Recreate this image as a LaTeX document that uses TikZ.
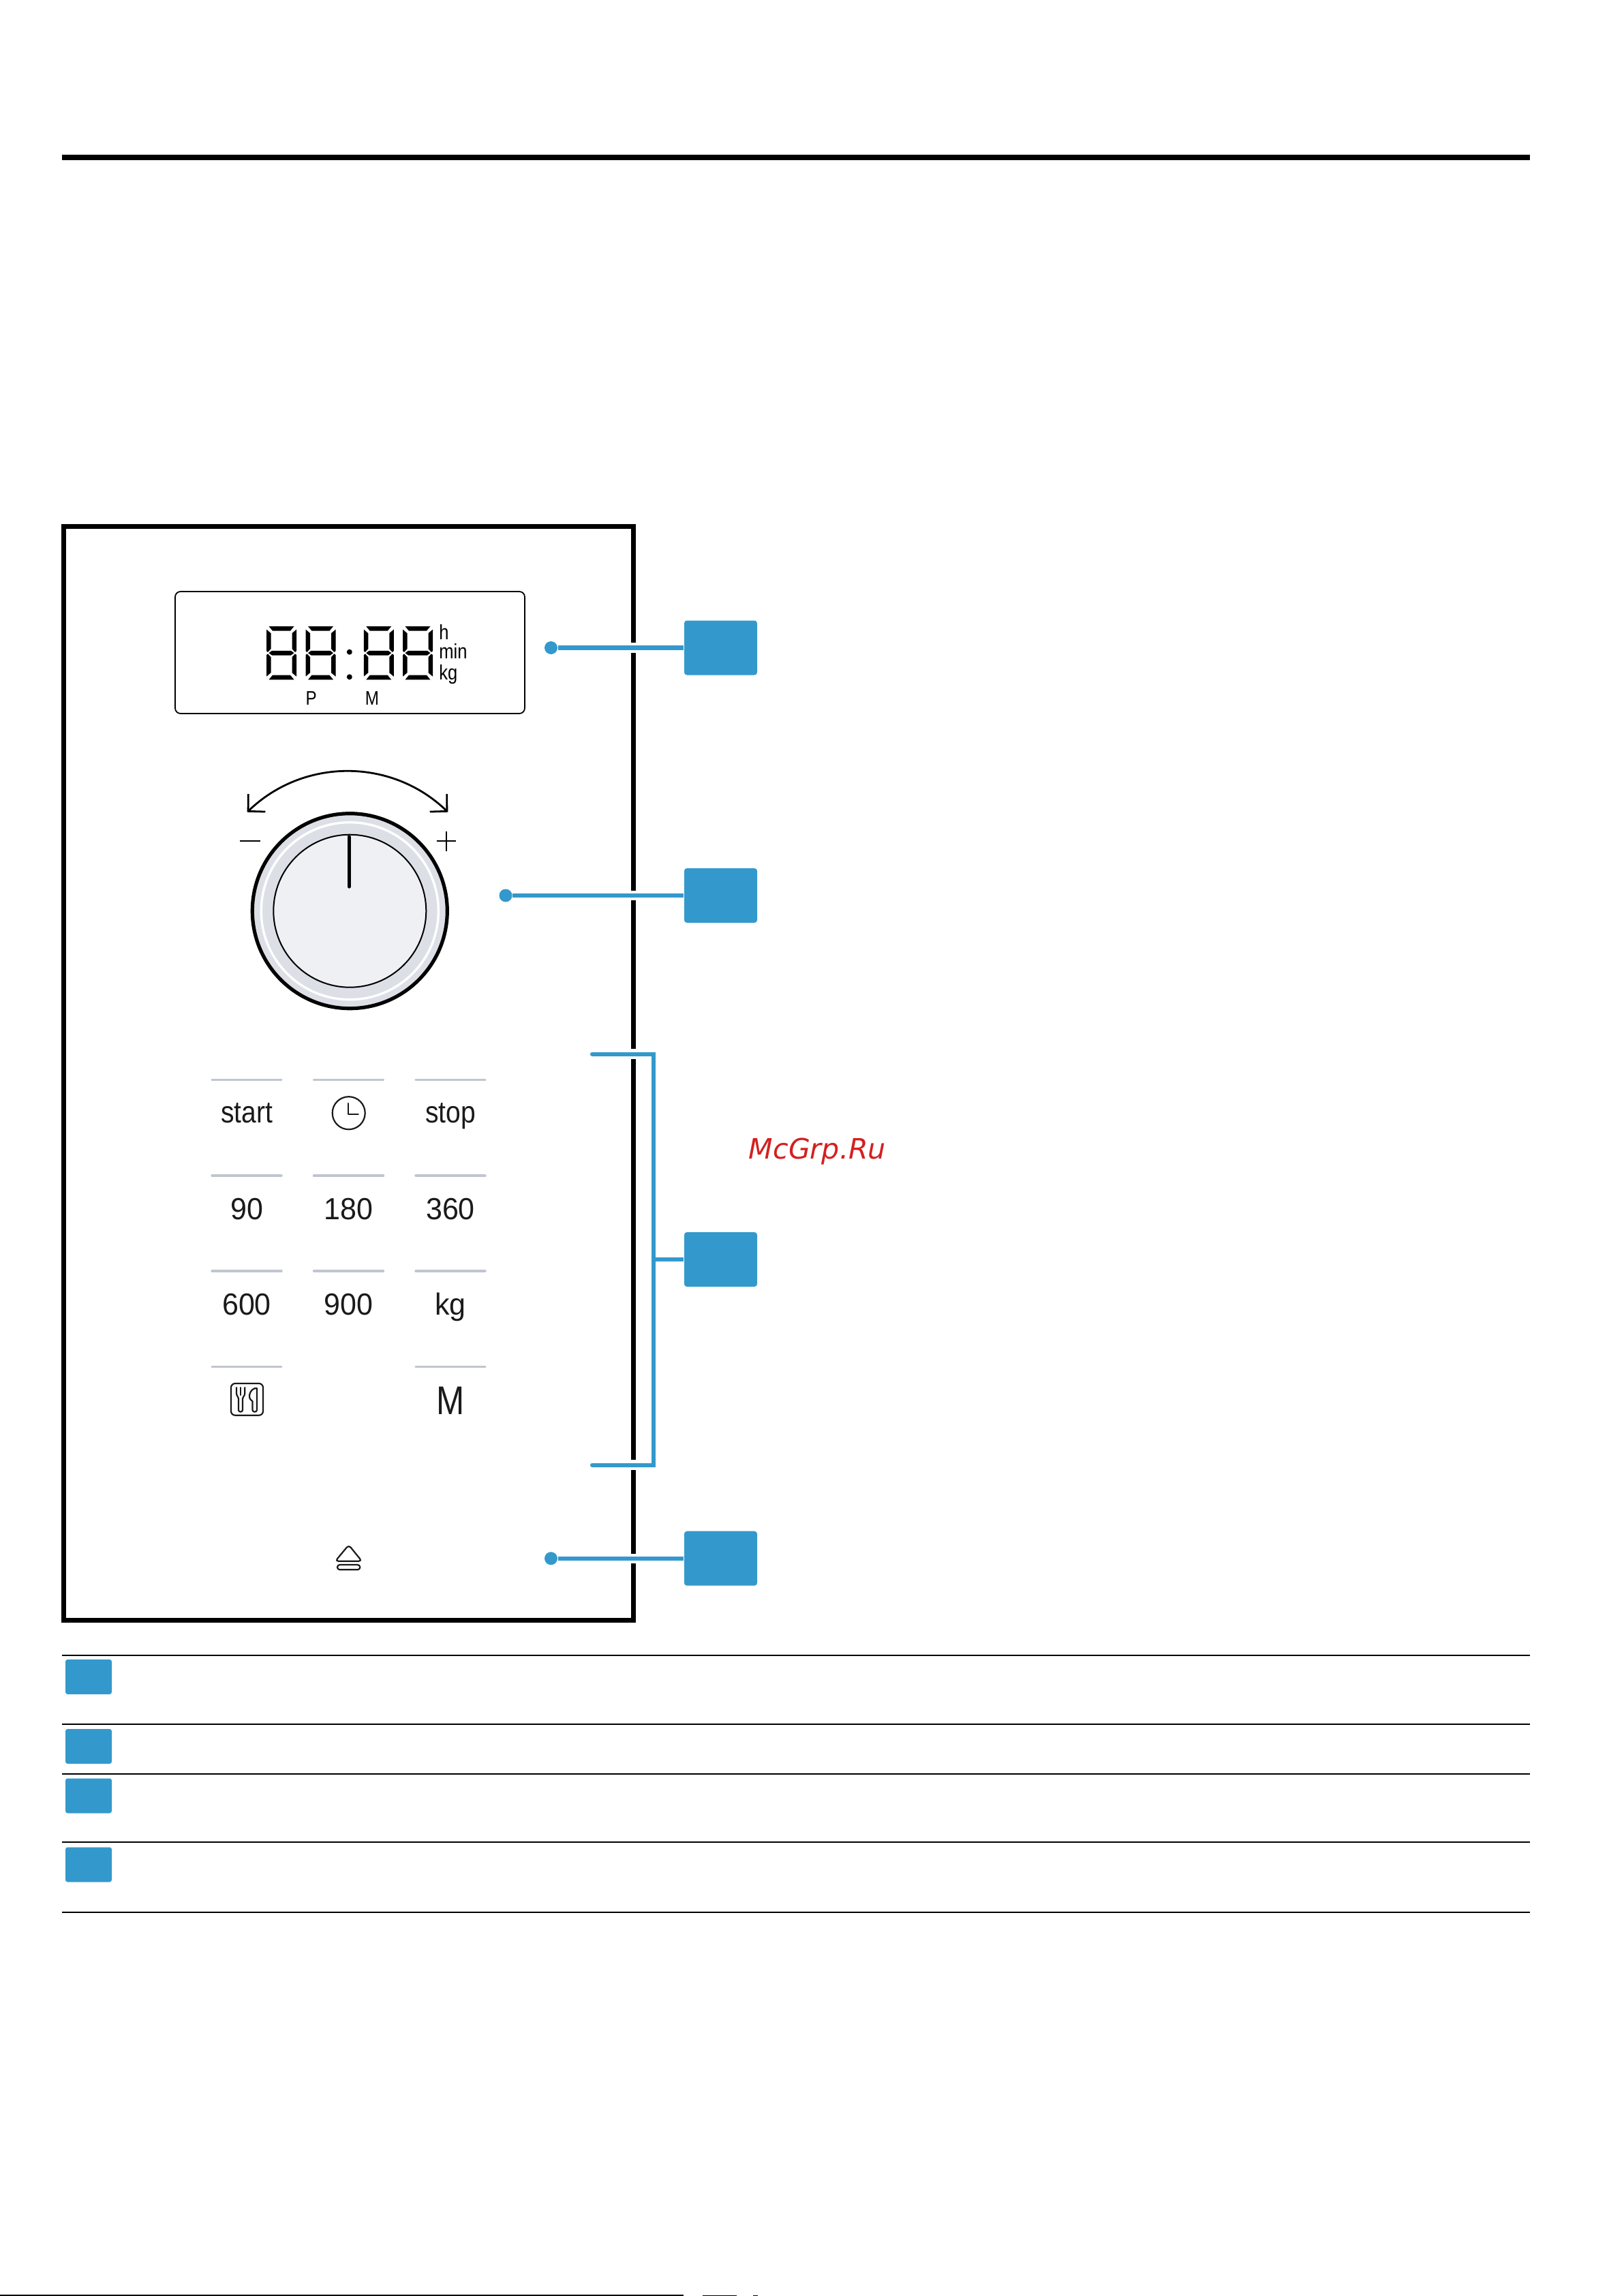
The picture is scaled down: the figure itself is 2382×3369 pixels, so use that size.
\documentclass[tikz,border=0pt]{standalone}
\usepackage{fontspec}
\usetikzlibrary{arrows.meta}
\newfontfamily\keyfont[FakeStretch=0.87]{Liberation Sans}
\newfontfamily\numfont[FakeStretch=0.96]{Liberation Sans}
\newfontfamily\lcdfont[FakeStretch=0.84]{Liberation Sans}
\newfontfamily\markfont{DejaVu Sans}
\definecolor{tagblue}{HTML}{3399CC}
\definecolor{knobgrey}{HTML}{DCDFE6}
\definecolor{knobface}{HTML}{EEF0F4}
\definecolor{keygrey}{HTML}{C0C5CE}
\definecolor{inkblack}{HTML}{1A1A1A}
\definecolor{markred}{HTML}{D42020}
\tikzset{
    tagbox/.style={fill=tagblue, minimum width=26.75pt, minimum height=20pt, inner sep=0pt, rounded corners=1pt},
    rowbox/.style={fill=tagblue, minimum width=17pt, minimum height=12.75pt, inner sep=0pt, rounded corners=.8pt},
    tagdot/.style={circle, fill=tagblue, minimum size=4.75pt, inner sep=0pt},
    tagline/.style={draw=tagblue, line width=1.55pt, preaction={draw=white, line width=3.6pt}},
    tablerule/.style={line width=.5pt},
    keyline/.style={draw=keygrey, line width=.85pt, line cap=round},
    keylabel/.style={anchor=base, inner sep=0pt, text=inkblack, font=\keyfont\fontsize{11.2pt}{13pt}\selectfont},
    numlabel/.style={keylabel, font=\numfont\fontsize{11.2pt}{13pt}\selectfont},
    lcdlabel/.style={anchor=base west, inner sep=0pt, font=\lcdfont\fontsize{7.6pt}{9pt}\selectfont},
    iconline/.style={draw=inkblack, line width=.55pt, line cap=round, line join=round}
}
\begin{document}
\begin{tikzpicture}[x=0.25pt, y=-0.25pt]

    \useasboundingbox (0, 0) rectangle (2382, 3369);

    % Heading rule and the frame of the panel
    \draw[line width=2pt] (91, 231) -- (2245, 231);
    \draw[line width=1.75pt] (93.5, 772.5) rectangle (929, 2377.5);

    % Display window
    \draw[line width=.45pt, rounded corners=2pt] (257, 868) rectangle (770, 1047);

    % Segments of the four digits, one quarter mirrored at a time
    \foreach \dx in {413, 470.5, 555.75, 613} {
        \foreach \flip in {1, -1} {
            \begin{scope}[shift={(\dx, 958.15)}, yscale=\flip]
                \fill (-18.5, -39.15) -- (18.5, -39.15) -- (13, -32.5) -- (-13, -32.5) -- cycle;
                \foreach \side in {1, -1} {
                    \fill[xscale=\side] (-22, -34.5) -- (-15.5, -29) -- (-15.5, -6) -- (-20, -1.2) -- (-22, -3) -- cycle;
                }
            \end{scope}
        }
        \fill (\dx-18.5, 958.15) -- (\dx-14, 954.8) -- (\dx+14, 954.8) -- (\dx+18.5, 958.15) -- (\dx+14, 961.5) -- (\dx-14, 961.5) -- cycle;
    }

    % Colon between the digits
    \fill (512.8, 956.7) circle[radius=4];
    \fill (512.8, 993.3) circle[radius=4];

    % Units and markers of the display
    \node[lcdlabel] (unith) at (643.5, 938) {h};
    \node[lcdlabel] (unitmin) at (643.5, 966.7) {min};
    \node[lcdlabel] (unitkg) at (643.5, 997) {kg};
    \node[lcdlabel, anchor=base, font=\lcdfont\fontsize{7.2pt}{9pt}\selectfont] (markp) at (456.7, 1034) {P};
    \node[lcdlabel, anchor=base, font=\lcdfont\fontsize{7.2pt}{9pt}\selectfont] (markm) at (546, 1034) {M};

    % Dial with its turning arrow
    \coordinate (knobcentre) at (513.3, 1336.7);
    \draw[line width=1.3pt, fill=knobgrey] (knobcentre) circle[radius=143];
    \draw[white, line width=.85pt] (knobcentre) circle[radius=130];
    \draw[line width=.5pt, fill=knobface] (knobcentre) circle[radius=112];
    \draw[line width=1.3pt, line cap=round] (512.3, 1228) -- (512.3, 1301);
    \coordinate (turnleft) at (362.7, 1191.7);
    \coordinate (turnright) at (657.3, 1191.7);
    \draw[line width=.7pt, {Straight Barb[length=4.4pt, width=9pt]}-{Straight Barb[length=4.4pt, width=9pt]}] (turnleft) to[bend left=44] (turnright);
    \draw[line width=.5pt] (352.3, 1234.3) -- (382, 1234.3);
    \draw[line width=.5pt] (640.7, 1234.3) -- (669.3, 1234.3);
    \draw[line width=.5pt] (654.7, 1220) -- (654.7, 1249);

    % Lines above the keys, the middle key of the last row has none
    \foreach \keyx in {362, 511.5, 661} {
        \foreach \keyy in {1584.6, 1725, 1865} {
            \draw[keyline] (\keyx-51, \keyy) -- (\keyx+51, \keyy);
        }
    }
    \draw[keyline] (311, 2005.4) -- (413, 2005.4);
    \draw[keyline] (610, 2005.4) -- (712, 2005.4);

    % Key labels
    \node[keylabel] (keystart) at (362, 1647) {start};
    \node[keylabel] (keystop) at (661, 1647) {stop};
    \foreach \keyname/\keyx/\keyy/\keytext in {keyninety/362/1789.3/90, keyoneeighty/511.5/1789.3/180, keythreesixty/661/1789.3/360,
        keysixhundred/362/1929.6/600, keyninehundred/511.5/1929.6/900, keykg/661/1929.6/kg} {
        \node[numlabel] (\keyname) at (\keyx, \keyy) {\keytext};
    }
    \node[keylabel, font=\lcdfont\fontsize{14.7pt}{16pt}\selectfont] (keymemory) at (661, 2075) {M};

    % Clock key
    \draw[iconline] (511.7, 1633.2) circle[radius=24];
    \draw[iconline] (511, 1619) -- (511, 1635) -- (525.7, 1635);

    % Cutlery key
    \draw[iconline, rounded corners=1.5pt] (339, 2030) rectangle (386, 2076.7);
    \draw[iconline] (347, 2036) -- (347, 2044) .. controls (347, 2049) and (350, 2049) .. (350, 2052) -- (350, 2069) .. controls (350, 2072.5) and (356, 2072.5) .. (356, 2069) -- (356, 2052) .. controls (356, 2049) and (359.3, 2049) .. (359.3, 2044) -- (359.3, 2036);
    \draw[iconline] (353, 2036) -- (353, 2047);
    \draw[iconline] (377, 2037) -- (377, 2069) .. controls (377, 2072.5) and (370.5, 2072.5) .. (370.5, 2069) -- (370.5, 2056) .. controls (366, 2053) and (365.5, 2050) .. (366, 2047) .. controls (367, 2041) and (372, 2036) .. (377, 2037);

    % Door opening key
    \draw[iconline, rounded corners=1.1pt] (511.7, 2267) -- (492, 2290.7) -- (531, 2290.7) -- cycle;
    \draw[iconline, rounded corners=.9pt] (495, 2296) rectangle (528.3, 2303.3);

    % Callouts, the boxes are empty
    \node[tagdot] (dotdisplay) at (808.5, 950.5) {};
    \node[tagdot] (dotdial) at (742, 1314) {};
    \node[tagdot] (dotdoor) at (808.5, 2286.7) {};
    \node[tagbox] (tagdisplay) at (1057.5, 950.5) {};
    \node[tagbox] (tagdial) at (1057.5, 1314) {};
    \node[tagbox] (tagkeys) at (1057.5, 1848) {};
    \node[tagbox] (tagdoor) at (1057.5, 2286.7) {};
    \draw[tagline] (dotdisplay) -- (tagdisplay);
    \draw[tagline] (dotdial) -- (tagdial);
    \draw[tagline] (dotdoor) -- (tagdoor);

    % Bracket round the keys
    \coordinate (brackettop) at (869, 1546.6);
    \coordinate (bracketbottom) at (869, 2149.6);
    \coordinate (bracketmid) at (959, 1848);
    \draw[tagline, line cap=round] (brackettop) -| (bracketmid) |- (bracketbottom);
    \draw[draw=tagblue, line width=1.55pt] (bracketmid) -- (tagkeys);

    % Watermark
    \node[anchor=base west, inner sep=0pt, text=markred, font=\markfont\itshape\fontsize{10.3pt}{12pt}\selectfont] (watermark) at (1098, 1700) {McGrp.Ru};

    % Table rows with their empty boxes
    \foreach \ruley in {2428.5, 2529.5, 2602.8, 2703.4, 2805.6} {
        \draw[tablerule] (91, \ruley) -- (2245, \ruley);
    }
    \node[rowbox] (rowone) at (130, 2460.5) {};
    \node[rowbox] (rowtwo) at (130, 2562.5) {};
    \node[rowbox] (rowthree) at (130, 2635) {};
    \node[rowbox] (rowfour) at (130, 2736) {};

    % Broken line at the very bottom of the page
    \draw[line width=.5pt] (0, 3368) -- (1003, 3368);
    \draw[line width=.25pt] (1031, 3368.5) -- (1081, 3368.5);
    \draw[line width=.25pt] (1105, 3368.5) -- (1112, 3368.5);

\end{tikzpicture}
\end{document}
